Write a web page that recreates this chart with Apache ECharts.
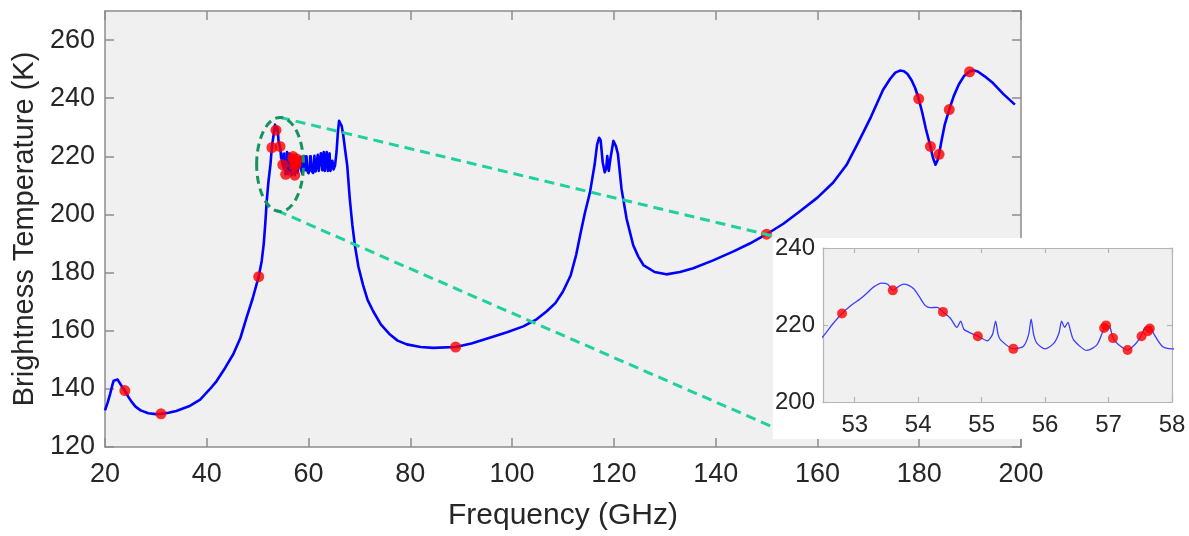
<!DOCTYPE html>
<html>
<head>
<meta charset="utf-8">
<script src="https://cdn.jsdelivr.net/npm/echarts@6/dist/echarts.min.js"></script>
<style>
  html, body { margin: 0; padding: 0; background: #fff; }
  #tbChart { width: 1189px; height: 536px; }
</style>
</head>
<body>
<div id="tbChart"></div>
<script>
// simulated spectrum (GHz, K)
var freq = [20.0, 20.5, 21.0, 21.4, 21.7, 22.0, 22.5, 22.9, 23.4, 23.9, 24.5, 25.2, 26.0, 27.0, 28.5, 30.0, 31.0,
  32.5, 34.0, 36.5, 38.7, 40.5, 41.9, 43.6, 45.2, 46.6, 47.8, 49.0, 50.2, 50.8, 51.2, 51.5, 51.8, 52.1, 52.3,
  52.5, 52.65, 52.8, 52.95, 53.09, 53.2, 53.3, 53.42, 53.52, 53.6,
  53.7, 53.77, 53.85, 53.93, 54.02, 54.11, 54.19, 54.3, 54.39, 54.51, 54.61, 54.67, 54.72, 54.83, 54.94, 55.09, 55.17, 55.22,
  55.26, 55.3, 55.5, 55.66, 55.74, 55.78, 55.82, 55.87, 56.0, 56.14, 56.22, 56.26, 56.31, 56.36, 56.4,
  56.45, 56.66, 56.82, 56.93, 56.96, 57.02, 57.07, 57.15, 57.3, 57.42, 57.5, 57.58, 57.66, 57.71, 57.85,
  58.0, 58.15, 58.32, 58.38, 58.45, 58.6, 58.8, 59.0, 59.16, 59.3, 59.45, 59.59, 59.75, 60.0, 60.2, 60.31,
  60.37, 60.43, 60.6, 60.9, 61.15, 61.4, 61.6, 61.8, 62.0, 62.25, 62.41, 62.45, 62.49, 62.7, 62.99, 63.2,
  63.4, 63.57, 63.8, 64.0, 64.13, 64.3, 64.5, 64.68, 64.9, 65.2, 65.5, 65.75, 66.0, 66.2, 66.5, 66.8, 67.2,
  67.6, 68.1, 68.6, 69.1, 69.8, 70.7, 71.6, 72.7, 74.2, 76.0, 77.5, 79.3, 82.0, 84.5, 88.9, 92.0, 95.6, 99.0,
  102.2, 104.7, 106.8, 108.5, 110.0, 111.5, 112.6, 113.5, 114.3, 115.3, 116.2, 116.7, 117.1, 117.4, 117.8,
  118.2, 118.5, 118.7, 119.0, 119.3, 119.9, 120.4, 120.8, 121.5, 122.5, 123.8, 124.8, 125.8, 128.0, 130.3,
  133.0, 135.6, 139.5, 143.4, 146.7, 150.0, 153.3, 156.5, 160.0, 163.1, 165.7, 168.0, 170.5, 172.9, 174.3,
  175.3, 176.2, 177.0, 177.7, 178.5, 179.2, 179.9, 180.6, 181.3, 182.2, 182.7, 183.2, 183.6, 183.9, 184.4,
  185.0, 185.9, 186.8, 187.8, 188.8, 189.9, 190.6, 191.5, 192.8, 194.5, 196.5, 198.8];
var tb = [132.6, 135.2, 138.2, 141.0, 142.8, 143.3, 143.2, 142.0, 140.6, 139.4, 137.5, 135.6, 133.9, 132.6, 131.6, 131.3, 131.4,
  131.8, 132.4, 134.0, 136.3, 139.7, 142.6, 147.2, 151.9, 157.5, 164.4, 171.0, 178.6, 184.0, 190.0, 197.0, 205.0, 211.0, 214.0,
  217.0, 220.2, 223.0, 225.2, 226.8, 228.4, 229.9, 230.9, 230.6, 229.0,
  230.1, 230.6, 230.3, 229.4, 227.3, 225.1, 224.5, 224.6, 223.4, 221.7, 219.4, 221.0, 218.9, 217.9, 217.1, 215.9, 217.5, 221.0,
  217.5, 216.1, 213.8, 214.5, 217.5, 221.5, 217.5, 215.3, 213.8, 215.3, 218.0, 221.0, 219.4, 220.7, 218.5,
  216.1, 213.4, 214.9, 219.2, 219.9, 219.5, 216.6, 215.0, 213.5, 215.0, 216.8, 219.4, 219.6, 217.8, 214.4,
  213.8, 214.2, 219.5, 217.5, 219.8, 215.0, 214.0, 214.6, 220.0, 215.2, 215.0, 220.0, 215.0, 214.2, 215.5, 220.0,
  218.5, 220.0, 215.0, 214.3, 220.2, 214.8, 215.0, 220.5, 215.0, 215.5, 221.0, 219.5, 221.0, 215.2, 221.5, 215.0,
  215.5, 221.5, 215.0, 215.5, 221.0, 215.0, 215.0, 218.5, 215.5, 216.8, 221.5, 228.0, 232.2, 232.0, 230.5, 227.5, 222.0,
  216.8, 205.4, 196.5, 189.4, 182.0, 175.8, 170.6, 166.7, 162.2, 158.7, 156.6, 155.3, 154.4, 154.1, 154.4, 155.6, 157.6, 159.5,
  161.5, 163.8, 166.7, 169.5, 173.5, 179.0, 186.2, 194.0, 200.5, 207.6, 217.0, 224.0, 226.4, 225.5, 218.0,
  214.5, 216.0, 220.1, 215.0, 219.0, 225.3, 223.5, 220.7, 208.8, 198.5, 189.4, 185.5, 182.6, 180.2, 179.4,
  180.2, 181.5, 184.2, 187.2, 190.0, 193.2, 196.8, 201.0, 205.8, 211.0, 217.0, 224.7, 233.5, 242.9, 246.7,
  248.8, 249.5, 249.3, 248.3, 246.2, 243.5, 239.8, 235.0, 229.5, 223.4, 219.5, 217.1, 218.6, 220.7, 225.5,
  230.8, 236.1, 240.8, 244.8, 247.6, 249.2, 249.6, 249.2, 247.6, 245.2, 241.5, 237.8];

// selected channels (red dots)
var chanFreq = [23.9, 31.0, 50.2, 52.8, 53.6, 54.39, 54.94, 55.5, 56.93, 56.96, 57.07, 57.3, 57.52, 57.62, 57.65,
  88.9, 150.0, 179.9, 182.2, 183.9, 185.9, 189.9];
var chanTb = [139.4, 131.4, 178.6, 223.0, 229.0, 223.4, 217.1, 213.8, 219.2, 219.9, 216.6, 213.5, 217.1, 218.4, 219.1,
  154.4, 193.2, 239.8, 223.4, 220.7, 236.1, 249.1];

var insetTicks = [53, 54, 55, 56, 57, 58];

var spectrum = freq.map(function (f, i) { return [f, tb[i]]; });
var channels = chanFreq.map(function (f, i) { return [f, chanTb[i]]; });

var axisGray = '#8c8c8c';
var insetGray = '#b4b4b4';
var textColor = '#262626';
var fontName = 'Liberation Sans, Arial, sans-serif';

function boxAxis(opts) {
  // one side of a matlab-like box: line + inward ticks
  return Object.assign({
    type: 'value',
    axisLine: { show: true, onZero: false, lineStyle: { color: opts.color, width: 1.5 } },
    axisTick: { show: true, inside: true, length: opts.tick, lineStyle: { color: opts.color, width: 1.5 } },
    splitLine: { show: false },
    axisLabel: { show: false }
  }, opts.extra);
}

var chart = echarts.init(document.getElementById('tbChart'));
var option = {
  backgroundColor: '#ffffff',
  animation: false,
  textStyle: { fontFamily: fontName },
  grid: [
    { left: 105, top: 11, right: 168, bottom: 86, show: true, backgroundColor: '#f0f0f0', borderWidth: 0 },
    { left: 823, top: 248, right: 17, bottom: 134, show: true, backgroundColor: '#f0f0f0', borderWidth: 0, zlevel: 1, z: 5 }
  ],
  xAxis: [
    boxAxis({ color: axisGray, tick: 9, extra: {
      gridIndex: 0, min: 20, max: 200, interval: 20, position: 'bottom',
      name: 'Frequency (GHz)', nameLocation: 'middle', nameGap: 54,
      nameTextStyle: { fontSize: 30, color: textColor, fontFamily: fontName },
      axisLabel: { show: true, fontSize: 27, color: textColor, margin: 14, fontFamily: fontName }
    } }),
    boxAxis({ color: axisGray, tick: 9, extra: { gridIndex: 0, min: 20, max: 200, interval: 20, position: 'top' } }),
    boxAxis({ color: insetGray, tick: 5, extra: {
      gridIndex: 1, min: 52.5, max: 58, position: 'bottom', zlevel: 1, z: 6,
      axisTick: { show: true, inside: true, length: 5, customValues: insetTicks, lineStyle: { color: insetGray, width: 1.2 } },
      axisLine: { show: true, onZero: false, lineStyle: { color: insetGray, width: 1.2 } },
      axisLabel: { show: true, fontSize: 24, color: textColor, margin: 11, customValues: insetTicks, fontFamily: fontName }
    } }),
    boxAxis({ color: insetGray, tick: 5, extra: {
      gridIndex: 1, min: 52.5, max: 58, position: 'top', zlevel: 1, z: 6,
      axisTick: { show: true, inside: true, length: 5, customValues: insetTicks, lineStyle: { color: insetGray, width: 1.2 } },
      axisLine: { show: true, onZero: false, lineStyle: { color: insetGray, width: 1.2 } }
    } })
  ],
  yAxis: [
    boxAxis({ color: axisGray, tick: 9, extra: {
      gridIndex: 0, min: 120, max: 270, interval: 20, position: 'left',
      name: 'Brightness Temperature (K)', nameLocation: 'middle', nameGap: 57,
      nameTextStyle: { fontSize: 29, color: textColor, fontFamily: fontName },
      axisLabel: { show: true, fontSize: 27, color: textColor, margin: 10, showMaxLabel: false, fontFamily: fontName }
    } }),
    boxAxis({ color: axisGray, tick: 9, extra: { gridIndex: 0, min: 120, max: 270, interval: 20, position: 'right' } }),
    boxAxis({ color: insetGray, tick: 5, extra: {
      gridIndex: 1, min: 200, max: 240, interval: 20, position: 'left', zlevel: 1, z: 6,
      axisTick: { show: true, inside: true, length: 5, lineStyle: { color: insetGray, width: 1.2 } },
      axisLine: { show: true, onZero: false, lineStyle: { color: insetGray, width: 1.2 } },
      axisLabel: { show: true, fontSize: 24, color: textColor, margin: 8, fontFamily: fontName }
    } }),
    boxAxis({ color: insetGray, tick: 5, extra: {
      gridIndex: 1, min: 200, max: 240, interval: 20, position: 'right', zlevel: 1, z: 6,
      axisTick: { show: true, inside: true, length: 5, lineStyle: { color: insetGray, width: 1.2 } },
      axisLine: { show: true, onZero: false, lineStyle: { color: insetGray, width: 1.2 } }
    } })
  ],
  series: [
    {
      type: 'line', xAxisIndex: 0, yAxisIndex: 0, data: spectrum,
      showSymbol: false, lineStyle: { color: '#0000ff', width: 2.6, join: 'round' }, z: 3
    },
    {
      type: 'scatter', xAxisIndex: 0, yAxisIndex: 0, data: channels,
      symbolSize: 11, itemStyle: { color: '#ff0000' }, z: 4
    },
    {
      type: 'line', xAxisIndex: 2, yAxisIndex: 2, data: spectrum, clip: true,
      showSymbol: false, smooth: 0.25,
      lineStyle: { color: '#3d3dff', width: 1.3, join: 'round' }, zlevel: 1, z: 7
    },
    {
      type: 'scatter', xAxisIndex: 2, yAxisIndex: 2, data: channels, clip: true,
      symbolSize: 10, itemStyle: { color: '#ff0000' }, zlevel: 1, z: 8
    }
  ]
};
chart.setOption(option);

// zoom ellipse around the 50-60 GHz band, plus the lines to the inset
var zoomCenter = [54.4, 217.2];
var zoomHalf = [4.6, 16.2];

function placeAnnotations() {
  var c = chart.convertToPixel({ xAxisIndex: 0, yAxisIndex: 0 }, zoomCenter);
  var ex = chart.convertToPixel({ xAxisIndex: 0, yAxisIndex: 0 }, [zoomCenter[0] + zoomHalf[0], zoomCenter[1] + zoomHalf[1]]);
  var rx = ex[0] - c[0], ry = c[1] - ex[1];
  var tl = chart.convertToPixel({ xAxisIndex: 2, yAxisIndex: 2 }, [52.5, 240]);
  var br = chart.convertToPixel({ xAxisIndex: 2, yAxisIndex: 2 }, [58, 200]);
  var boxLeft = tl[0] - 50, boxTop = tl[1] - 10, boxBottom = br[1] + 37;
  chart.setOption({
    graphic: [
      {
        type: 'rect', zlevel: 1, z: 0, silent: true,
        shape: { x: boxLeft, y: boxTop, width: chart.getWidth() - boxLeft, height: boxBottom - boxTop },
        style: { fill: '#ffffff' }
      },
      {
        type: 'line', z: 10, silent: true,
        shape: { x1: c[0], y1: c[1] - ry, x2: boxLeft, y2: boxTop - 2 },
        style: { stroke: '#1fd19c', lineWidth: 3, lineDash: [10, 6] }
      },
      {
        type: 'line', z: 10, silent: true,
        shape: { x1: c[0] - 3, y1: c[1] + ry - 1, x2: boxLeft, y2: boxBottom - 12 },
        style: { stroke: '#1fd19c', lineWidth: 3, lineDash: [10, 6] }
      },
      {
        type: 'ellipse', z: 11, silent: true,
        shape: { cx: c[0], cy: c[1], rx: rx, ry: ry },
        style: { fill: null, stroke: '#17935f', lineWidth: 3, lineDash: [8, 5] }
      }
    ]
  });
}
placeAnnotations();

window.addEventListener('resize', function () {
  chart.resize();
  placeAnnotations();
});
</script>
</body>
</html>
